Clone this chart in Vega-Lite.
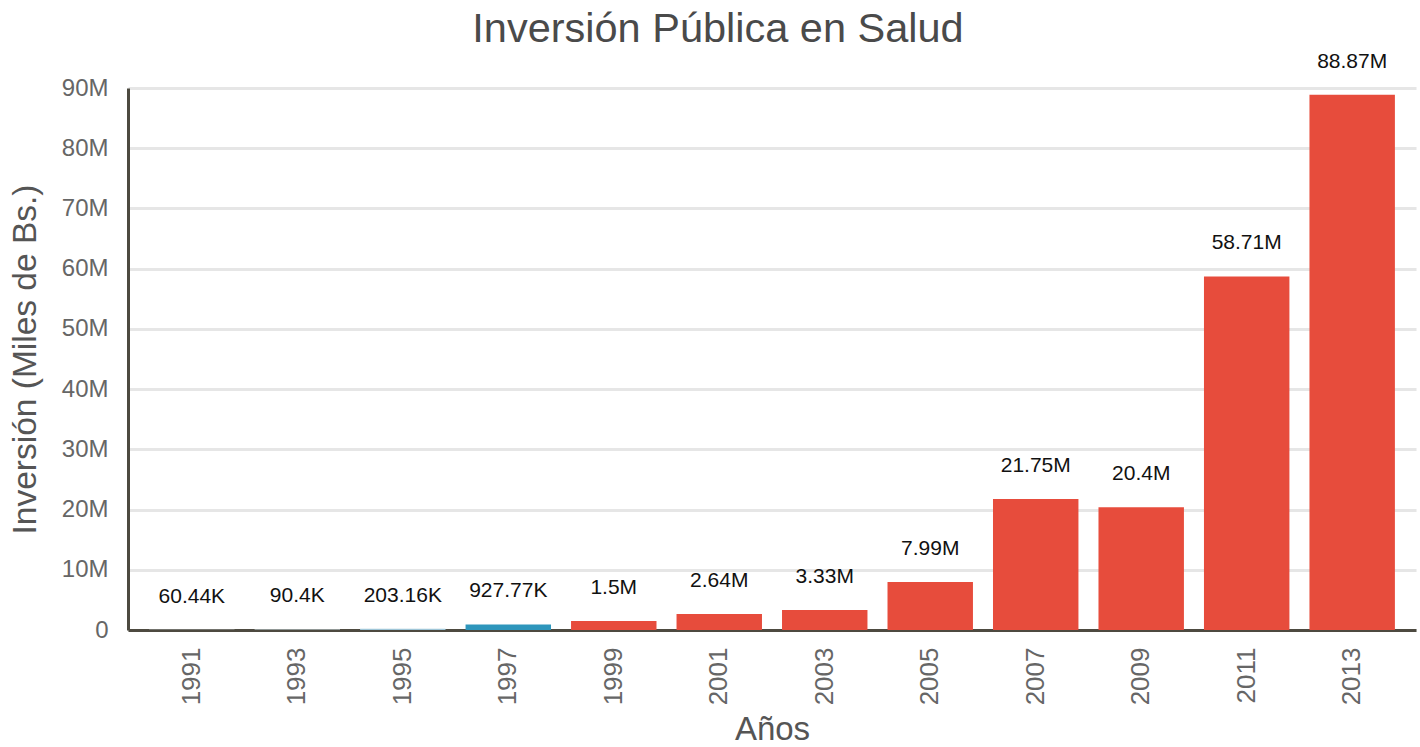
{
  "$schema": "https://vega.github.io/schema/vega-lite/v6.json",
  "autosize": {"type": "none"},
  "width": 1288,
  "height": 542,
  "padding": {"left": 128, "top": 88, "right": 4, "bottom": 117},
  "background": "white",
  "config": {
    "view": {"stroke": null},
    "font": "Liberation Sans"
  },
  "title": {
    "text": "Inversión Pública en Salud",
    "fontSize": 41.5,
    "fontWeight": "normal",
    "color": "#4a4a4a",
    "font": "Liberation Sans",
    "anchor": "middle",
    "dx": -54,
    "offset": 0
  },
  "data": {
    "values": [
      {"year": "1991", "value": 60440, "label": "60.44K"},
      {"year": "1993", "value": 90400, "label": "90.4K"},
      {"year": "1995", "value": 203160, "label": "203.16K"},
      {"year": "1997", "value": 927770, "label": "927.77K"},
      {"year": "1999", "value": 1500000, "label": "1.5M"},
      {"year": "2001", "value": 2640000, "label": "2.64M"},
      {"year": "2003", "value": 3330000, "label": "3.33M"},
      {"year": "2005", "value": 7990000, "label": "7.99M"},
      {"year": "2007", "value": 21750000, "label": "21.75M"},
      {"year": "2009", "value": 20400000, "label": "20.4M"},
      {"year": "2011", "value": 58710000, "label": "58.71M"},
      {"year": "2013", "value": 88870000, "label": "88.87M"}
    ]
  },
  "encoding": {
    "x": {
      "field": "year",
      "type": "nominal",
      "sort": null,
      "scale": {"paddingInner": 0.19, "paddingOuter": 0.2},
      "axis": {
        "title": "Años",
        "titleFontSize": 33,
        "titleFontWeight": "normal",
        "titleColor": "#555555",
        "titlePadding": 9,
        "labelAngle": -90,
        "labelFontSize": 26,
        "labelColor": "#666666",
        "labelPadding": 17,
        "ticks": false,
        "domainColor": "#4d4a40",
        "domainWidth": 3,
        "grid": false
      }
    },
    "y": {
      "field": "value",
      "type": "quantitative",
      "scale": {"domain": [0, 90000000], "nice": false},
      "axis": {
        "title": "Inversión (Miles de Bs.)",
        "titleFontSize": 33.5,
        "titleFontWeight": "normal",
        "titleColor": "#555555",
        "titlePadding": 19,
        "values": [0, 10000000, 20000000, 30000000, 40000000, 50000000, 60000000, 70000000, 80000000, 90000000],
        "labelExpr": "datum.value == 0 ? '0' : (datum.value / 1000000) + 'M'",
        "labelFontSize": 24,
        "labelColor": "#666666",
        "labelPadding": 20,
        "ticks": false,
        "domainColor": "#4d4a40",
        "domainWidth": 3,
        "grid": true,
        "gridColor": "#e6e6e6",
        "gridWidth": 3
      }
    }
  },
  "layer": [
    {
      "mark": {"type": "bar"},
      "encoding": {
        "color": {
          "field": "year",
          "type": "nominal",
          "legend": null,
          "scale": {
            "domain": ["1991", "1993", "1995", "1997", "1999", "2001", "2003", "2005", "2007", "2009", "2011", "2013"],
            "range": ["#e6eef1", "#d6e5eb", "#9fc6d8", "#2e96bc", "#e74c3c", "#e74c3c", "#e74c3c", "#e74c3c", "#e74c3c", "#e74c3c", "#e74c3c", "#e74c3c"]
          }
        }
      }
    },
    {
      "mark": {"type": "text", "dy": -33, "baseline": "middle", "fontSize": 21, "color": "#111111", "font": "Liberation Sans"},
      "encoding": {"text": {"field": "label"}}
    }
  ]
}
